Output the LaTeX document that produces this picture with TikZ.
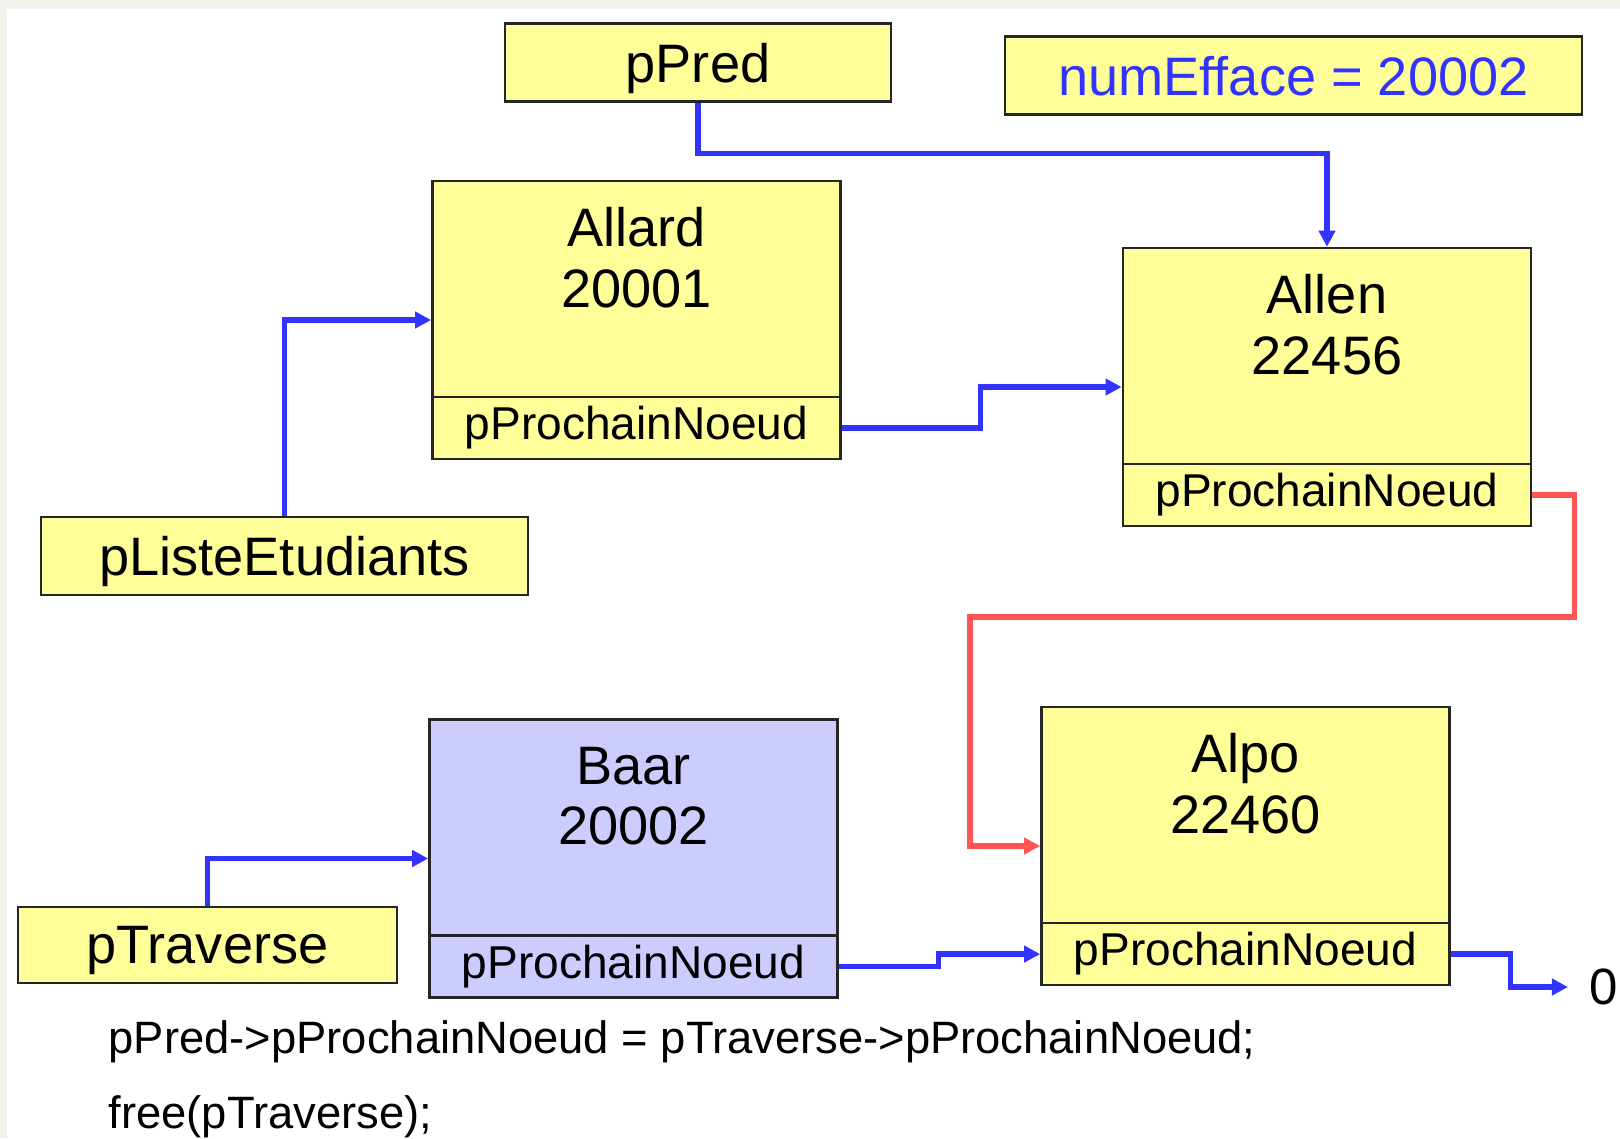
\documentclass[tikz,border=0pt]{standalone}
\usepackage{fontspec}
\setmainfont{Liberation Sans}
\usetikzlibrary{arrows.meta}
\definecolor{jaune}{RGB}{255,255,153}
\definecolor{lavande}{RGB}{204,204,255}
\definecolor{bleu}{RGB}{51,51,255}
\definecolor{rouge}{RGB}{255,85,85}
\definecolor{fond}{RGB}{241,241,234}

\begin{document}
\begin{tikzpicture}[x=0.01cm, y=-0.01cm,
        boite/.style={draw=black!85, line width=0.7pt, fill=jaune, inner sep=0pt},
        rec/.style={boite, minimum width=40.8mm, minimum height=27.8mm},
        ptr/.style={boite, minimum width=40.8mm, minimum height=6.2mm, anchor=south,
            font=\fontsize{13.1}{15}\selectfont},
        var/.style={boite, minimum height=7.8mm, text depth=0pt, font=\fontsize{15.4}{18}\selectfont},
        nom/.style={align=center, inner sep=0pt, font=\fontsize{15.4}{17.2}\selectfont},
        code/.style={anchor=west, inner sep=0pt, font=\fontsize{12.9}{15}\selectfont},
        lien/.style={draw=bleu, line width=1.5pt, -{Triangle[length=1.6mm,width=1.6mm]}},
        lienrouge/.style={lien, draw=rouge}]
        \fill[fond] (0,0) rectangle (1620,1138);
        \fill[white] (7,9) rectangle (1620,1138);
        \useasboundingbox (0,0) rectangle (1620,1138);

        \node[var, minimum width=38.6mm] (pPred) at (698,62.5) {pPred};
        \node[var, minimum width=57.7mm, text=bleu] (numEfface) at (1293.5,75.5) {numEfface = 20002};
        \node[var, minimum width=48.7mm] (pListe) at (284.5,556) {pListeEtudiants};
        \node[var, minimum width=37.9mm, minimum height=7.6mm] (pTraverse) at (207.5,945) {pTraverse};

        \node[rec] (allard) at (636.5,320) {};
        \node[nom] (allardN) at ([yshift=-7.8mm]allard.north) {Allard\\20001};
        \node[ptr] (allardP) at (allard.south) {pProchainNoeud};

        \node[rec] (allen) at (1327,387) {};
        \node[nom] (allenN) at ([yshift=-7.8mm]allen.north) {Allen\\22456};
        \node[ptr] (allenP) at (allen.south) {pProchainNoeud};

        \node[rec, fill=lavande] (baar) at (633.5,858.5) {};
        \node[nom] (baarN) at ([yshift=-7.8mm]baar.north) {Baar\\20002};
        \node[ptr, fill=lavande] (baarP) at (baar.south) {pProchainNoeud};

        \node[rec] (alpo) at (1245.5,846) {};
        \node[nom] (alpoN) at ([yshift=-7.8mm]alpo.north) {Alpo\\22460};
        \node[ptr] (alpoP) at (alpo.south) {pProchainNoeud};

        \node[inner sep=0pt, outer sep=2.1mm, anchor=west, font=\fontsize{14.5}{16}\selectfont] (zero) at (1568,987) {0};

        \node[code] (ligne1) at (108,1042) {pPred->pProchainNoeud = pTraverse->pProchainNoeud;};
        \node[code] (ligne2) at (108,1117) {free(pTraverse);};

        \draw[lien] (pPred.south) -- ++(0,51) -| (allen.north);
        \draw[lien] (pListe.north) |- (allard.west);
        \draw[lien] (allardP.east) -- ++(139,0) |- (allen.west);
        \draw[lienrouge] (allenP.east) -| ++(42,122) -| ([xshift=-7mm]alpo.west) -- (alpo.west);
        \draw[lien] (pTraverse.north) |- (baar.west);
        \draw[lien] (baarP.east) -- ++(100,0) |- (alpoP.west);
        \draw[lien] (alpoP.east) -- ++(60,0) |- (zero.west);
    \end{tikzpicture}
\end{document}
